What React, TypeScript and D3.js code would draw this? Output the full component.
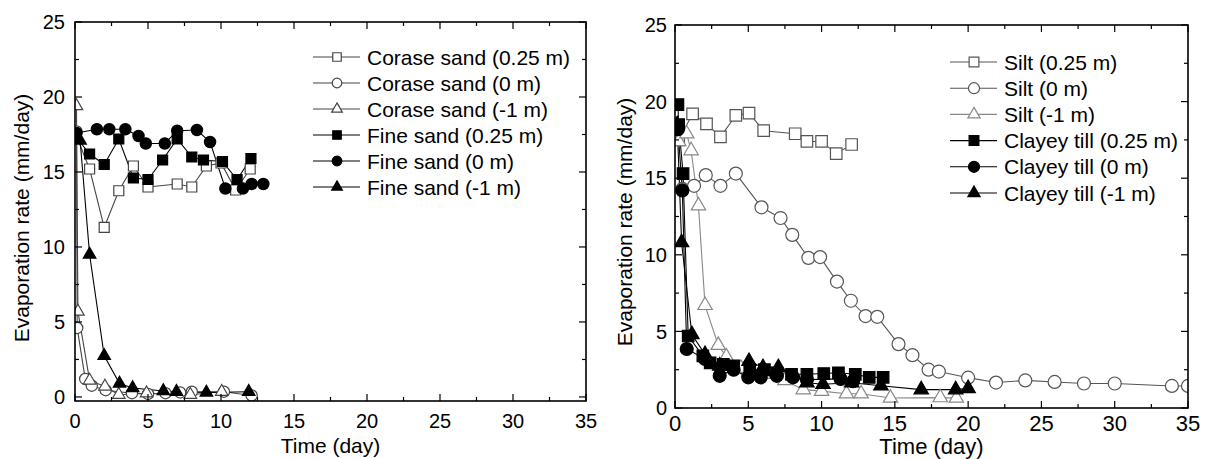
import React from "react";
import * as d3 from "d3";

type Pt = [number, number];

// ---------- Left panel data (sand) ----------
const coarse025: Pt[] = [[0.05,17.5],[1,15.2],[2,11.3],[3,13.75],[4,15.4],[5,14.0],[7,14.2],[8,14.0],[9,15.4],[10,15.6],[11,13.8],[12,15.2]];
const coarse0: Pt[] = [[0.1,17.7],[0.15,4.6],[0.7,1.2],[1.15,0.75],[2.1,0.45],[3.9,0.25],[5,0.2],[6.2,0.25],[7.2,0.3],[8,0.35],[10.2,0.35],[12.1,0.1]];
const coarseM1: Pt[] = [[0.1,19.4],[0.2,5.7],[1,1.1],[2.05,0.7],[3,0.15],[4.9,0.25],[7.9,0.15],[10.05,0.35]];
const fine025: Pt[] = [[0.1,17.3],[1,16.2],[2,15.5],[3,17.2],[4,14.6],[5,14.5],[6,15.8],[7,17.2],[8,16.0],[8.8,15.8],[10.1,15.7],[11.1,14.5],[12.05,15.9]];
const fine0: Pt[] = [[0.1,17.6],[1.5,17.85],[2.35,17.85],[3.45,17.85],[4.35,17.4],[4.85,16.9],[6.15,16.9],[7,17.75],[8.35,17.8],[9.25,17.0],[10.3,13.9],[11.5,13.9],[12.1,14.2],[12.9,14.2]];
const fineM1: Pt[] = [[0.35,17.1],[1,9.5],[2,2.75],[3.05,0.9],[3.95,0.6],[6.05,0.4],[6.95,0.35],[9,0.3],[11.9,0.35]];

// ---------- Right panel data (silt / clayey till) ----------
const silt025: Pt[] = [[0.25,17.5],[1.2,19.2],[2.15,18.55],[3.1,17.7],[4.15,19.1],[5.05,19.25],[6.05,18.1],[8.2,17.9],[9,17.4],[10,17.4],[11,16.6],[12.05,17.2]];
const silt0: Pt[] = [[0.5,14.3],[1.3,14.5],[2.1,15.2],[3.1,14.5],[4.15,15.3],[5.9,13.1],[7.2,12.4],[8,11.3],[9.1,9.8],[9.9,9.85],[11.05,8.25],[12,7.0],[13,6.0],[13.8,5.95],[15.25,4.17],[16.2,3.45],[17.3,2.5],[18,2.38],[20,1.98],[21.9,1.66],[23.9,1.8],[25.9,1.7],[27.9,1.6],[30,1.6],[33.9,1.44],[35,1.44]];
const siltM1: Pt[] = [[0.25,17.4],[0.8,17.9],[1.1,16.8],[1.6,13.2],[2.05,6.7],[2.95,4.1],[3.5,3.35],[4.5,2.6],[6,2.2],[7.5,1.8],[8.75,1.2],[10,1.1],[11.7,0.93],[12.7,0.93],[14.7,0.65],[18.1,0.68],[19.2,0.65]];
const clay025: Pt[] = [[0.2,19.8],[0.25,18.5],[0.55,15.3],[0.9,4.7],[1.9,3.4],[2.4,2.95],[3.3,2.85],[4,2.75],[5.1,2.5],[6.1,2.5],[6.95,2.3],[7.95,2.2],[9,2.2],[10.15,2.25],[11.15,2.3],[12.3,2.2],[13.25,2.0],[14.2,2.0]];
const clay0: Pt[] = [[0.2,18.2],[0.5,14.2],[0.8,3.85],[2.05,3.2],[3.05,2.1],[4,2.5],[5,2.0],[5.85,2.0],[6.95,2.1],[8.05,2.0],[9,1.85],[11.3,1.9],[12.15,1.75]];
const clayM1: Pt[] = [[0.15,18.5],[0.45,10.8],[1.15,4.8],[2.05,3.5],[3.05,2.75],[5.05,3.05],[6,2.65],[7.05,2.65],[9,1.65],[10.1,1.55],[12.05,1.65],[14.05,1.45],[16.8,1.2],[19.15,1.2],[20,1.28]];

const leftLabels = ["Corase sand (0.25 m)", "Corase sand (0 m)", "Corase sand (-1 m)", "Fine sand (0.25 m)", "Fine sand (0 m)", "Fine sand (-1 m)"];
const rightLabels = ["Silt (0.25 m)", "Silt (0 m)", "Silt (-1 m)", "Clayey till (0.25 m)", "Clayey till (0 m)", "Clayey till (-1 m)"];
const shapes = ["square", "circle", "triangle", "square", "circle", "triangle"];
const filled = [false, false, false, true, true, true];
const leftColors = ["#444", "#444", "#444", "#000", "#000", "#000"];
const rightColors = ["#555", "#555", "#888", "#000", "#000", "#000"];

const xTicks = [0, 5, 10, 15, 20, 25, 30, 35];
const yTicks = [0, 5, 10, 15, 20, 25];
const xMinor = [2.5, 7.5, 12.5, 17.5, 22.5, 27.5, 32.5];
const yMinor = [2.5, 7.5, 12.5, 17.5, 22.5];

const FONT = "'Liberation Sans', Arial, Helvetica, sans-serif";

function symbolPath(shape: string, scale: number) {
  const t = shape === "square" ? d3.symbolSquare : shape === "circle" ? d3.symbolCircle : d3.symbolTriangle;
  const size = shape === "square" ? 100 * scale * scale : shape === "circle" ? 100 * scale * scale : 68 * scale * scale;
  return d3.symbol().type(t).size(size)() as string;
}

interface PanelProps {
  id: string;
  x0: number; x1: number; yTop: number; yBot: number; yMin: number;
  series: Pt[][]; labels: string[]; colors: string[];
  legendX: number; legendY: number; legendStep: number;
  markerScale: number;
  yLabelX: number; yTitleX: number; yTitleY: number;
  xLabelY: number; xLabelSize: number; xTitleY: number; xTitleSize: number;
}

function Panel(p: PanelProps) {
  const x = d3.scaleLinear().domain([0, 35]).range([p.x0, p.x1]);
  const y = d3.scaleLinear().domain([p.yMin, 25]).range([p.yBot, p.yTop]);
  const line = d3.line<Pt>().x((d) => x(d[0])).y((d) => y(d[1]));
  const major = 7, minor = 4;
  const order = [0, 1, 2, 3, 4, 5];
  return (
    <g>
      <defs>
        <clipPath id={p.id}>
          <rect x={p.x0} y={p.yTop} width={p.x1 - p.x0} height={p.yBot - p.yTop} />
        </clipPath>
      </defs>
      <g clipPath={`url(#${p.id})`}>
        {order.map((i) => (
          <path key={"l" + i} d={line(p.series[i]) as string} fill="none" stroke={p.colors[i]} strokeWidth={1.1} />
        ))}
        {order.map((i) =>
          p.series[i].map((d, j) => (
            <path key={"m" + i + "-" + j} d={symbolPath(shapes[i], p.markerScale)}
              transform={`translate(${x(d[0])},${y(d[1])})`}
              fill={filled[i] ? "#000" : "#fff"} stroke={p.colors[i]} strokeWidth={1.2} />
          ))
        )}
      </g>
      {/* frame */}
      <rect x={p.x0} y={p.yTop} width={p.x1 - p.x0} height={p.yBot - p.yTop} fill="none" stroke="#000" strokeWidth={1.6} />
      {/* x ticks */}
      {xTicks.map((t) => (
        <g key={"xt" + t}>
          <line x1={x(t)} x2={x(t)} y1={p.yBot} y2={p.yBot - major} stroke="#000" strokeWidth={1.2} />
          <line x1={x(t)} x2={x(t)} y1={p.yTop} y2={p.yTop + major} stroke="#000" strokeWidth={1.2} />
          <text x={x(t)} y={p.xLabelY} textAnchor="middle" fontSize={p.xLabelSize} fontFamily={FONT}>{t}</text>
        </g>
      ))}
      {xMinor.map((t) => (
        <g key={"xm" + t}>
          <line x1={x(t)} x2={x(t)} y1={p.yBot} y2={p.yBot - minor} stroke="#000" strokeWidth={1.2} />
          <line x1={x(t)} x2={x(t)} y1={p.yTop} y2={p.yTop + minor} stroke="#000" strokeWidth={1.2} />
        </g>
      ))}
      {/* y ticks */}
      {yTicks.map((t) => (
        <g key={"yt" + t}>
          <line x1={p.x0} x2={p.x0 + major} y1={y(t)} y2={y(t)} stroke="#000" strokeWidth={1.2} />
          <line x1={p.x1} x2={p.x1 - major} y1={y(t)} y2={y(t)} stroke="#000" strokeWidth={1.2} />
          <text x={p.yLabelX} y={y(t)} dy="0.36em" textAnchor="end" fontSize={20} fontFamily={FONT}>{t}</text>
        </g>
      ))}
      {yMinor.map((t) => (
        <g key={"ym" + t}>
          <line x1={p.x0} x2={p.x0 + minor} y1={y(t)} y2={y(t)} stroke="#000" strokeWidth={1.2} />
          <line x1={p.x1} x2={p.x1 - minor} y1={y(t)} y2={y(t)} stroke="#000" strokeWidth={1.2} />
        </g>
      ))}
      {/* titles */}
      <text x={(p.x0 + p.x1) / 2} y={p.xTitleY} textAnchor="middle" fontSize={p.xTitleSize} fontFamily={FONT}>Time (day)</text>
      <text transform={`translate(${p.yTitleX},${p.yTitleY}) rotate(-90)`} textAnchor="middle" dy="0.35em" fontSize={21} fontFamily={FONT}>Evaporation rate (mm/day)</text>
      {/* legend */}
      {order.map((i) => {
        const ly = p.legendY + i * p.legendStep;
        return (
          <g key={"lg" + i}>
            <line x1={p.legendX} x2={p.legendX + 47} y1={ly} y2={ly} stroke={p.colors[i]} strokeWidth={1.1} />
            <path d={symbolPath(shapes[i], p.markerScale * 0.85)} transform={`translate(${p.legendX + 24},${ly})`}
              fill={filled[i] ? "#000" : "#fff"} stroke={p.colors[i]} strokeWidth={1.2} />
            <text x={p.legendX + 54} y={ly} dy="0.36em" fontSize={21} fontFamily={FONT}>{p.labels[i]}</text>
          </g>
        );
      })}
    </g>
  );
}

export default function App() {
  return (
    <svg width={1208} height={459} style={{ position: "absolute", left: 0, top: 0, background: "#fff" }}>
      <rect x={0} y={0} width={1208} height={459} fill="#fff" />
      <Panel id="clipL" x0={75} x1={586} yTop={22} yBot={401} yMin={-0.27}
        series={[coarse025, coarse0, coarseM1, fine025, fine0, fineM1]} labels={leftLabels} colors={leftColors}
        legendX={313} legendY={57} legendStep={26} markerScale={1.0}
        yLabelX={65} yTitleX={22} yTitleY={218}
        xLabelY={428} xLabelSize={20} xTitleY={453} xTitleSize={21} />
      <Panel id="clipR" x0={675} x1={1188} yTop={25} yBot={408} yMin={0}
        series={[silt025, silt0, siltM1, clay025, clay0, clayM1]} labels={rightLabels} colors={rightColors}
        legendX={950} legendY={62} legendStep={26.2} markerScale={1.15}
        yLabelX={667} yTitleX={625} yTitleY={222}
        xLabelY={431} xLabelSize={22} xTitleY={454} xTitleSize={22} />
    </svg>
  );
}
